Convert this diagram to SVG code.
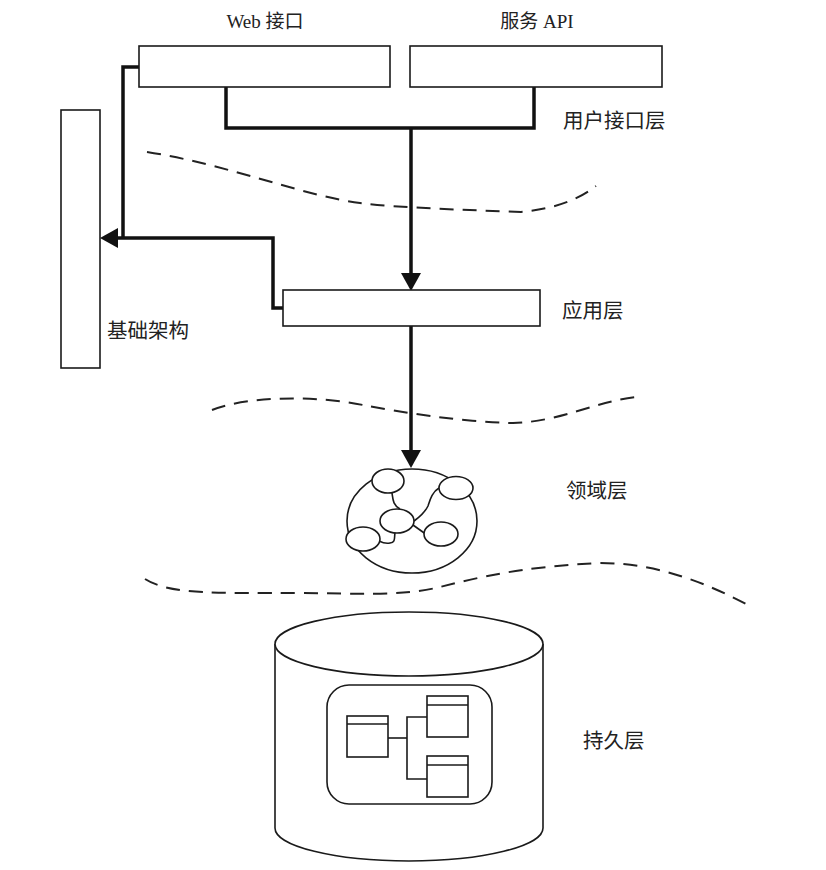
<svg xmlns="http://www.w3.org/2000/svg" width="826" height="870" viewBox="0 0 826 870">
<defs>
<style>
.box{fill:#fff;stroke:#1a1a1a;stroke-width:1.6}
.thin{fill:none;stroke:#1a1a1a;stroke-width:1.6}
.conn{fill:none;stroke:#111;stroke-width:3.5;stroke-linejoin:miter}
.dash{fill:none;stroke:#222;stroke-width:2;stroke-dasharray:14 9}
.lbl{font-family:"Liberation Serif","Noto Sans CJK SC",serif;font-size:19px;fill:#222}
.lbl2{font-family:"Noto Sans CJK SC","Liberation Sans",sans-serif;font-size:20.5px;fill:#222}
.small{fill:#fff;stroke:#1a1a1a;stroke-width:1.6}
</style>
<marker id="ah" markerUnits="userSpaceOnUse" markerWidth="18" markerHeight="20" refX="0" refY="10" orient="auto">
<path d="M0,0 L18,10 L0,20 z" fill="#111"/>
</marker>
</defs>
<rect width="826" height="870" fill="#fff"/>

<g id="dashes">
<path class="dash" d="M147,152 C230,165 300,195 360,203 C400,208 470,210 521,212 C560,208 580,198 596,186"/>
<path class="dash" d="M212,410 C250,395 320,396 363,405 C400,412 460,422 513,423 C560,422 600,400 637,397"/>
<path class="dash" d="M145,579 C170,595 220,593 300,593 C350,593 400,597 440,587 C480,577 520,567 600,563 C660,563 710,585 750,606"/>
</g>

<g id="connectors">
<polyline class="conn" points="226,87 226,128 534,128 534,87"/>
<line class="conn" x1="411" y1="128" x2="411" y2="273" marker-end="url(#ah)"/>
<polyline class="conn" points="139,67 123,67 123,238"/>
<polyline class="conn" points="283,308 273,308 273,238 118,238" marker-end="url(#ah)"/>
<line class="conn" x1="411" y1="326" x2="411" y2="450" marker-end="url(#ah)"/>
</g>

<g id="web">
<rect class="box" x="139" y="46" width="251" height="41"/>
<text class="lbl" x="265" y="28" text-anchor="middle">Web 接口</text>
</g>
<g id="api">
<rect class="box" x="410" y="46" width="252" height="41"/>
<text class="lbl" x="537" y="28" text-anchor="middle">服务 API</text>
</g>
<g id="ui-layer">
<text class="lbl2" x="563" y="128">用户接口层</text>
</g>

<g id="infra">
<rect class="box" x="61" y="110" width="39" height="258"/>
<text class="lbl2" x="107" y="338">基础架构</text>
</g>

<g id="app">
<rect class="box" x="283" y="290" width="257" height="36"/>
<text class="lbl2" x="562" y="318">应用层</text>
</g>

<g id="domain">
<ellipse class="thin" cx="412" cy="521" rx="65" ry="52"/>
<path class="thin" d="M392,493 C393,500 393,505 400,509"/>
<path class="thin" d="M439,488 C432,492 430,500 428,506 C424,514 418,518 414,521"/>
<path class="thin" d="M413,525 L427,535"/>
<path class="thin" d="M395,533 C394,538 396,542 390,543 C386,544 383,543 379,541"/>
<ellipse class="small" cx="388" cy="481" rx="16" ry="12"/>
<ellipse class="small" cx="456" cy="488" rx="17" ry="11.5"/>
<ellipse class="small" cx="397" cy="521" rx="17" ry="12"/>
<ellipse class="small" cx="363" cy="539" rx="17" ry="12"/>
<ellipse class="small" cx="441" cy="534" rx="17" ry="12"/>
<text class="lbl2" x="566" y="498">领域层</text>
</g>

<g id="persistence">
<path class="box" d="M275,644 L275,828 A134,33 0 0 0 543,828 L543,644"/>
<ellipse class="box" cx="409" cy="644" rx="134" ry="32"/>
<rect class="thin" x="327" y="685" width="165" height="119" rx="22" ry="22"/>
<polyline class="thin" points="388,738 407,738"/>
<polyline class="thin" points="427,717 407,717 407,779 427,779"/>
<rect class="box" x="347" y="716" width="41" height="41"/>
<line class="thin" x1="347" y1="724" x2="388" y2="724"/>
<rect class="box" x="427" y="696" width="41" height="41"/>
<line class="thin" x1="427" y1="705" x2="468" y2="705"/>
<rect class="box" x="427" y="756" width="41" height="41"/>
<line class="thin" x1="427" y1="765" x2="468" y2="765"/>
<text class="lbl2" x="583" y="748">持久层</text>
</g>
</svg>
